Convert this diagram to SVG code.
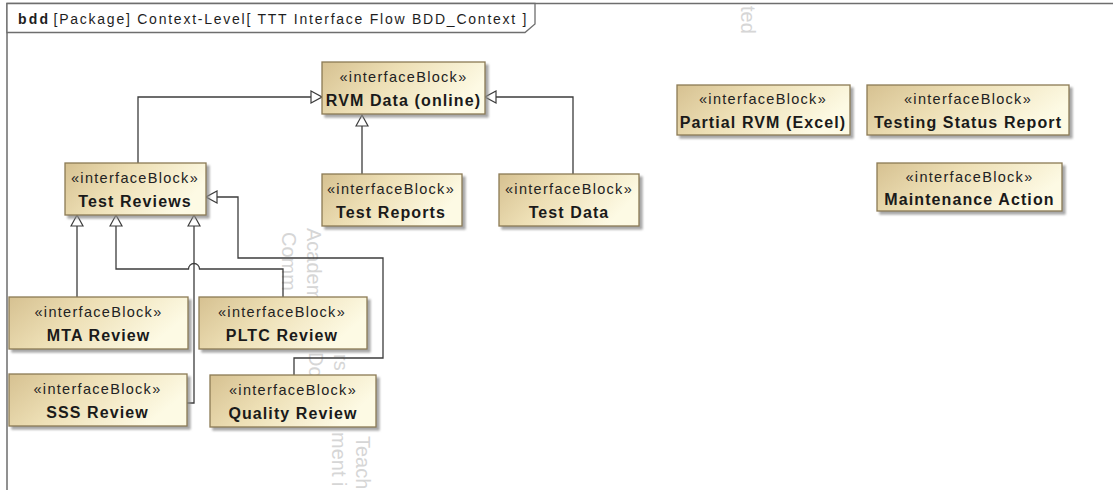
<svg xmlns="http://www.w3.org/2000/svg" width="1113" height="490" viewBox="0 0 1113 490">
  <defs>
    <linearGradient id="blockFill" x1="0" y1="0" x2="1" y2="0.35">
      <stop offset="0" stop-color="#d6c191"/>
      <stop offset="0.45" stop-color="#eddfb5"/>
      <stop offset="1" stop-color="#fdfae4"/>
    </linearGradient>
    <filter id="shadow" x="-5%" y="-10%" width="115%" height="130%">
      <feDropShadow dx="3" dy="3" stdDeviation="1" flood-color="#8a8a8a" flood-opacity="0.75"/>
    </filter>
    <marker id="gen" viewBox="-1 -1 13 14" refX="11" refY="6" markerWidth="13" markerHeight="14" markerUnits="userSpaceOnUse" orient="auto">
      <path d="M0,0 L11,6 L0,12 Z" fill="#ffffff" stroke="#3c3c3c" stroke-width="1.2"/>
    </marker>
    <style>
      .frame { fill:none; stroke:#6e6e6e; stroke-width:1.5; }
      .tab { fill:#ffffff; stroke:#6e6e6e; stroke-width:1.3; }
      .hdr { font-family:"Liberation Sans", Arial, sans-serif; font-size:14px; fill:#1e1e1e; }
      .box { fill:url(#blockFill); stroke:#8b7a54; stroke-width:1.3; filter:url(#shadow); }
      .st { font-family:"Liberation Sans", Arial, sans-serif; font-size:14.5px; letter-spacing:1.3px; text-anchor:middle; fill:#222222; }
      .nm { font-family:"Liberation Sans", Arial, sans-serif; font-size:16px; font-weight:bold; letter-spacing:1.1px; text-anchor:middle; fill:#1a1a1a; }
      .edge { fill:none; stroke:#3c3c3c; stroke-width:1.3; }
      .gen { marker-end:url(#gen); }
      .wm { font-family:"Liberation Sans", Arial, sans-serif; font-size:20px; fill:#d6d6d6; }
    </style>
  </defs>

  <rect width="1113" height="490" fill="#ffffff"/>

  <!-- diagram frame and its name tab -->
  <g id="frame">
    <path class="frame" d="M7,490 V3.5 H1113"/>
    <path class="tab" d="M7,3.5 H535 V24 L525,32.5 H7 Z"/>
    <text class="hdr" x="18" y="23.5" font-weight="bold" textLength="30" lengthAdjust="spacing">bdd</text>
    <text class="hdr" x="53.5" y="23.5" textLength="473" lengthAdjust="spacing">[Package] Context-Level[ TTT Interface Flow BDD_Context ]</text>
  </g>

  <!-- faint licence watermark, partly hidden behind the blocks -->
  <g id="watermark">
    <text class="wm" transform="translate(741,6) rotate(90)">ted</text>
    <text class="wm" transform="translate(307,228) rotate(90)">Academ</text>
    <text class="wm" transform="translate(282,232) rotate(90)">Comm</text>
    <text class="wm" transform="translate(309,352) rotate(90)">Do</text>
    <text class="wm" transform="translate(334,354) rotate(90)">rs</text>
    <text class="wm" transform="translate(332,432) rotate(90)" font-size="19">ment i</text>
    <text class="wm" transform="translate(356,436) rotate(90)" font-size="19">Teach</text>
  </g>

  <!-- generalization connectors -->
  <g id="connectors">
    <path class="edge gen" d="M138,163 V97 H322"/>
    <path class="edge gen" d="M362,174 V115"/>
    <path class="edge gen" d="M573,174 V97 H485"/>
    <path class="edge gen" d="M77,297 V215"/>
    <path class="edge gen" d="M283,297 V269 H199.5 a5.5,5.5 0 0 0 -11,0 H116 V215"/>
    <path class="edge gen" d="M187,403 H194 V215"/>
    <path class="edge gen" d="M294,375 V358 H383 V258 H238 V197 H206"/>
  </g>

  <!-- interface blocks -->
  <g id="rvm-data-online">
    <rect class="box" x="322" y="62" width="163" height="52"/>
    <text class="st" x="403.5" y="82">«interfaceBlock»</text>
    <text class="nm" x="403.5" y="106">RVM Data (online)</text>
  </g>
  <g id="test-reviews">
    <rect class="box" x="65" y="163" width="141" height="52"/>
    <text class="st" x="135" y="183">«interfaceBlock»</text>
    <text class="nm" x="135" y="207">Test Reviews</text>
  </g>
  <g id="test-reports">
    <rect class="box" x="322" y="174" width="140" height="52"/>
    <text class="st" x="391" y="193.5">«interfaceBlock»</text>
    <text class="nm" x="391" y="217.5">Test Reports</text>
  </g>
  <g id="test-data">
    <rect class="box" x="499" y="174" width="140" height="52"/>
    <text class="st" x="569" y="193.5">«interfaceBlock»</text>
    <text class="nm" x="569" y="217.5">Test Data</text>
  </g>
  <g id="partial-rvm-excel">
    <rect class="box" x="677" y="85" width="173" height="50"/>
    <text class="st" x="763" y="103.5">«interfaceBlock»</text>
    <text class="nm" x="763" y="127.5">Partial RVM (Excel)</text>
  </g>
  <g id="testing-status-report">
    <rect class="box" x="867" y="85" width="202" height="50"/>
    <text class="st" x="968" y="103.5">«interfaceBlock»</text>
    <text class="nm" x="968" y="127.5">Testing Status Report</text>
  </g>
  <g id="maintenance-action">
    <rect class="box" x="877" y="163" width="185" height="48"/>
    <text class="st" x="969.5" y="181.5">«interfaceBlock»</text>
    <text class="nm" x="969.5" y="205">Maintenance Action</text>
  </g>
  <g id="mta-review">
    <rect class="box" x="9" y="297" width="179" height="52"/>
    <text class="st" x="98.5" y="317">«interfaceBlock»</text>
    <text class="nm" x="98.5" y="340.5">MTA Review</text>
  </g>
  <g id="pltc-review">
    <rect class="box" x="199" y="297" width="168" height="52"/>
    <text class="st" x="282" y="317">«interfaceBlock»</text>
    <text class="nm" x="282" y="340.5">PLTC Review</text>
  </g>
  <g id="sss-review">
    <rect class="box" x="9" y="374" width="178" height="52"/>
    <text class="st" x="97.5" y="393.5">«interfaceBlock»</text>
    <text class="nm" x="97.5" y="418">SSS Review</text>
  </g>
  <g id="quality-review">
    <rect class="box" x="210" y="375" width="166" height="52"/>
    <text class="st" x="293" y="394.5">«interfaceBlock»</text>
    <text class="nm" x="293" y="418.5">Quality Review</text>
  </g>
</svg>
